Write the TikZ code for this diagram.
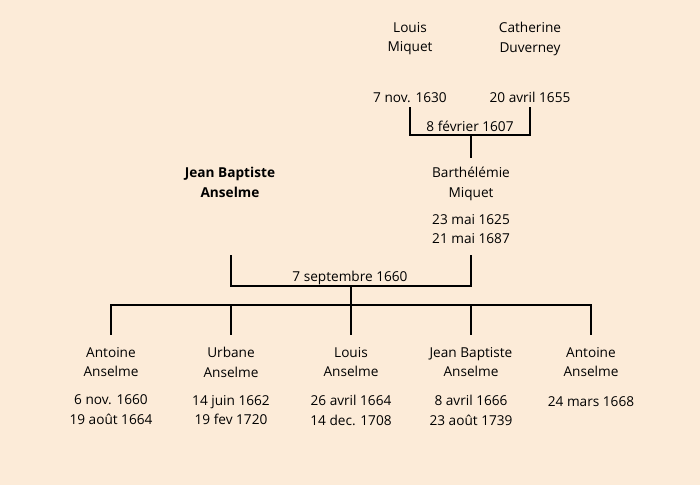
\documentclass[tikz,border=0pt]{standalone}
\usepackage{fontspec}
\setmainfont{Open Sans}
\usetikzlibrary{positioning, calc}
\definecolor{parchment}{RGB}{252, 235, 216}

\tikzset{
    person/.style={align=center, font=\fontsize{9.7pt}{14.2pt}\selectfont, inner sep=2pt,
        execute at begin node=\strut, execute at end node=\strut},
    dates/.style={person},
    tie/.style={black, line width=2.1pt}
}

\begin{document}
\begin{tikzpicture}[x=0.025cm, y=-0.025cm]
                    \fill[parchment] (0,0) rectangle (700,485);
                    \useasboundingbox (0,0) rectangle (700,485);
                    % grand-parents
                    \node[person] (louis) at (410,40) {Louis\\Miquet};
                    \node[person] (cath) at (530,40) {Catherine\\Duverney};
                    \node[dates] (louisd) at (410,99) {7 nov. 1630};
                    \node[dates] (cathd) at (530,99) {20 avril 1655};
                    \coordinate (mar1) at (471,135);
                    \node[dates] (mar1lbl) at (470,128) {8 février 1607};
                    % parents
                    \node[person, font=\fontsize{9.7pt}{14.2pt}\selectfont\bfseries] (jb) at (230,185) {Jean Baptiste\\Anselme};
                    \node[person] (barth) at (471,185) {Barthélémie\\Miquet};
                    \node[dates] (barthd) at (471,232) {23 mai 1625\\21 mai 1687};
                    \coordinate (mar2) at (351,286);
                    \node[dates] (mar2lbl) at (350,278) {7 septembre 1660};
                    \coordinate (fam) at (351,305);
                    % children
                    \node[person] (c1) at (111,365) {Antoine\\Anselme};
                    \node[person] (c2) at (231,365) {Urbane\\Anselme};
                    \node[person] (c3) at (351,365) {Louis\\Anselme};
                    \node[person] (c4) at (471,365) {Jean Baptiste\\Anselme};
                    \node[person] (c5) at (591,365) {Antoine\\Anselme};
                    \node[dates] (c1d) at (111,413) {6 nov. 1660\\19 août 1664};
                    \node[dates] (c2d) at (231,413) {14 juin 1662\\19 fev 1720};
                    \node[dates] (c3d) at (351,413) {26 avril 1664\\14 dec. 1708};
                    \node[dates] (c4d) at (471,413) {8 avril 1666\\23 août 1739};
                    \node[dates] (c5d) at (591,403) {24 mars 1668};
                    % ties
                    \draw[tie] ($(louisd.south)+(0,-5)$) |- (mar1) -| ($(cathd.south)+(0,-5)$);
                    \draw[tie] (mar1) -- ($(barth.north)+(0,-6)$);
                    \draw[tie] ($(barthd.south)+(-240,2)$) |- (mar2) -| ($(barthd.south)+(0,2)$);
                    \draw[tie] (mar2) -- (fam);
                    \foreach \c in {c1,c2,c3,c4,c5}
                        \draw[tie] (fam) -| ($(\c.north)+(0,-9)$);
                \end{tikzpicture}
\end{document}
